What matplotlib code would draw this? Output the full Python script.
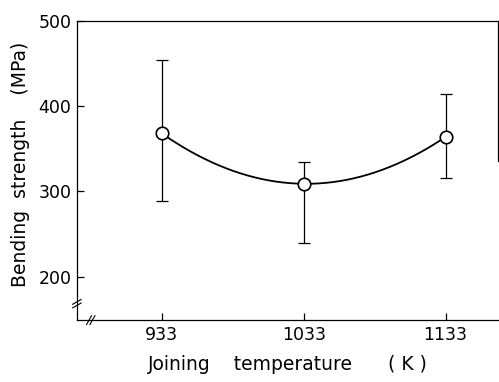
import matplotlib.pyplot as plt
import numpy as np

# Bending strength vs joining temperature
temps = [933, 1033, 1133]
strength = [368, 309, 364]
err_low = [289, 239, 316]
err_high = [454, 335, 414]
yticks = [200, 300, 400, 500]

plt.rcParams['font.family'] = ['DejaVu Sans']

fig = plt.figure(figsize=(4.99, 3.82), dpi=100)
ax = fig.add_axes([0.154, 0.162, 0.844, 0.783])

# smooth curve through the points (quadratic fit)
c = np.polyfit(temps, strength, 2)
xs = np.linspace(temps[0], temps[-1], 200)
ax.plot(xs, np.polyval(c, xs), color='black', lw=1.3, zorder=2)

yerr = [np.array(strength) - np.array(err_low), np.array(err_high) - np.array(strength)]
ax.errorbar(temps, strength, yerr=yerr, fmt='none', ecolor='black', elinewidth=0.9,
            capsize=4, capthick=0.9, zorder=1)
ax.plot(temps, strength, 'o', ms=9, mfc='white', mec='black', mew=1.2, zorder=3)

ax.set_xlim(873, 1170)
ax.set_ylim(149, 500)
ax.set_xticks(temps)
ax.set_yticks(yticks)
ax.tick_params(direction='in', length=5, width=0.9, labelsize=12.5, pad=4)
ax.spines['right'].set_bounds(336, 500)
for s in ax.spines.values():
    s.set_linewidth(0.9)

ax.set_ylabel('Bending  strength    (MPa)', fontsize=13.5, labelpad=4)
ax.set_xlabel('Joining    temperature      ( K )', fontsize=13.5, labelpad=8)
ax.yaxis.set_label_coords(-0.112, 0.52)

# axis break marks
kw = dict(transform=ax.transAxes, color='black', lw=0.8, clip_on=False)
for dx in (-0.004, 0.004):
    ax.plot([0.033 + dx - 0.006, 0.033 + dx + 0.006], [-0.015, 0.015], **kw)
for dy in (-0.006, 0.006):
    ax.plot([-0.01, 0.01], [0.055 + dy - 0.008, 0.055 + dy + 0.008], **kw)

fig.savefig('out.png', dpi=100)
